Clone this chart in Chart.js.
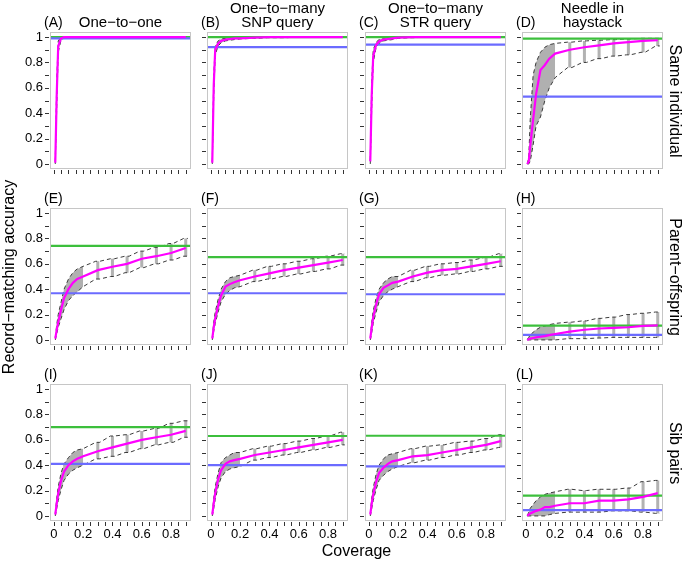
<!DOCTYPE html>
<html>
<head>
<meta charset="utf-8">
<script src="https://cdn.jsdelivr.net/npm/chart.js@4.4.0/dist/chart.umd.min.js"></script>
<style>
  body { margin: 0; background: #fff; }
  #fig { position: relative; width: 685px; height: 562px; overflow: hidden;
         font-family: "Liberation Sans", Arial, Helvetica, sans-serif; color: #000; }
  .panel { position: absolute; }
  .lab { position: absolute; white-space: nowrap; }
</style>
</head>
<body>
<div id="fig"></div>
<script>
// coverage values (x) shared by all panels
var coverage = [0.01, 0.02, 0.03, 0.05, 0.07, 0.1, 0.13, 0.16, 0.2, 0.3, 0.4, 0.5, 0.6, 0.7, 0.8, 0.9];
var bandEnd = 0.2; // dense replicates up to here, separate bars after

var panelLetters = ['A', 'B', 'C', 'D', 'E', 'F', 'G', 'H', 'I', 'J', 'K', 'L'];
var colTitles = [['One\u2212to\u2212one'], ['One\u2212to\u2212many', 'SNP query'], ['One\u2212to\u2212many', 'STR query'], ['Needle in', 'haystack']];
var rowTitles = ['Same individual', 'Parent\u2212offspring', 'Sib pairs'];

// reference lines
var greenLevel = [1.0, 1.0, 1.0, 0.987, 0.742, 0.652, 0.653, 0.112, 0.70, 0.63, 0.632, 0.16];
var blueLevel  = [0.99, 0.921, 0.94, 0.53, 0.368, 0.368, 0.36, 0.04, 0.41, 0.40, 0.39, 0.045];

// mean / lower / upper accuracy per panel
var meanA = [0.01, 0.55, 0.93, 0.99, 1, 1, 1, 1, 1, 1, 1, 1, 1, 1, 1, 1];
var loA   = [0.00, 0.45, 0.88, 0.98, 0.99, 1, 1, 1, 1, 1, 1, 1, 1, 1, 1, 1];
var hiA   = [0.02, 0.66, 0.97, 1, 1, 1, 1, 1, 1, 1, 1, 1, 1, 1, 1, 1];

var meanB = [0.01, 0.62, 0.9, 0.95, 0.97, 0.98, 0.985, 0.99, 0.99, 0.995, 1, 1, 1, 1, 1, 1];
var loB   = [0.00, 0.54, 0.86, 0.93, 0.955, 0.97, 0.975, 0.98, 0.985, 0.99, 0.995, 0.995, 1, 1, 1, 1];
var hiB   = [0.02, 0.7, 0.93, 0.97, 0.985, 0.99, 0.995, 1, 1, 1, 1, 1, 1, 1, 1, 1];

var meanC = [0.02, 0.55, 0.85, 0.94, 0.965, 0.98, 0.985, 0.99, 0.995, 1, 1, 1, 1, 1, 1, 1];
var loC   = [0.00, 0.45, 0.8, 0.92, 0.95, 0.97, 0.975, 0.98, 0.99, 0.995, 1, 1, 1, 1, 1, 1];
var hiC   = [0.03, 0.65, 0.9, 0.96, 0.98, 0.99, 1, 1, 1, 1, 1, 1, 1, 1, 1, 1];

var meanD = [0.0, 0.02, 0.14, 0.35, 0.55, 0.74, 0.78, 0.83, 0.87, 0.9, 0.92, 0.935, 0.95, 0.96, 0.97, 0.975];
var loD   = [0.0, 0.0, 0.02, 0.15, 0.3, 0.37, 0.5, 0.6, 0.68, 0.76, 0.8, 0.83, 0.85, 0.86, 0.88, 0.93];
var hiD   = [0.0, 0.05, 0.35, 0.7, 0.8, 0.88, 0.92, 0.94, 0.95, 0.96, 0.97, 0.975, 0.98, 0.985, 0.99, 0.99];

var meanE = [0.01, 0.08, 0.14, 0.24, 0.33, 0.4, 0.45, 0.48, 0.5, 0.55, 0.577, 0.6, 0.64, 0.66, 0.685, 0.725];
var loE   = [0.00, 0.05, 0.1, 0.17, 0.24, 0.31, 0.35, 0.38, 0.42, 0.48, 0.5, 0.53, 0.57, 0.6, 0.63, 0.66];
var hiE   = [0.02, 0.12, 0.2, 0.3, 0.4, 0.48, 0.53, 0.56, 0.58, 0.62, 0.64, 0.66, 0.7, 0.73, 0.76, 0.8];

var meanF = [0.01, 0.1, 0.17, 0.27, 0.35, 0.42, 0.44, 0.455, 0.47, 0.5, 0.525, 0.55, 0.57, 0.59, 0.61, 0.63];
var loF   = [0.00, 0.07, 0.13, 0.22, 0.3, 0.36, 0.39, 0.41, 0.42, 0.46, 0.48, 0.5, 0.52, 0.54, 0.56, 0.59];
var hiF   = [0.02, 0.14, 0.22, 0.32, 0.4, 0.46, 0.49, 0.5, 0.51, 0.55, 0.58, 0.6, 0.62, 0.64, 0.66, 0.68];

var meanG = [0.01, 0.1, 0.18, 0.28, 0.36, 0.41, 0.43, 0.45, 0.46, 0.5, 0.53, 0.55, 0.56, 0.58, 0.6, 0.62];
var loG   = [0.00, 0.06, 0.13, 0.22, 0.3, 0.35, 0.38, 0.4, 0.42, 0.46, 0.49, 0.51, 0.52, 0.54, 0.56, 0.58];
var hiG   = [0.02, 0.14, 0.23, 0.33, 0.4, 0.45, 0.48, 0.5, 0.5, 0.55, 0.58, 0.6, 0.61, 0.63, 0.65, 0.68];

var meanH = [0.0, 0.005, 0.01, 0.015, 0.02, 0.025, 0.03, 0.038, 0.047, 0.065, 0.08, 0.09, 0.095, 0.1, 0.11, 0.115];
var loH   = [0.0, 0.0, 0.0, 0.0, 0.0, 0.0, 0.0, 0.0, 0.0, 0.01, 0.01, 0.015, 0.02, 0.02, 0.02, 0.02];
var hiH   = [0.005, 0.02, 0.04, 0.06, 0.08, 0.1, 0.11, 0.12, 0.13, 0.14, 0.15, 0.17, 0.18, 0.2, 0.21, 0.22];

var meanI = [0.01, 0.1, 0.18, 0.28, 0.35, 0.4, 0.43, 0.45, 0.47, 0.51, 0.54, 0.57, 0.6, 0.62, 0.64, 0.67];
var loI   = [0.00, 0.06, 0.12, 0.21, 0.28, 0.33, 0.36, 0.38, 0.4, 0.45, 0.47, 0.5, 0.53, 0.56, 0.58, 0.62];
var hiI   = [0.02, 0.14, 0.23, 0.34, 0.41, 0.46, 0.5, 0.52, 0.53, 0.58, 0.63, 0.64, 0.67, 0.69, 0.73, 0.75];

var meanJ = [0.01, 0.1, 0.18, 0.29, 0.36, 0.41, 0.43, 0.44, 0.45, 0.48, 0.5, 0.52, 0.54, 0.56, 0.58, 0.6];
var loJ   = [0.00, 0.06, 0.13, 0.23, 0.3, 0.35, 0.37, 0.38, 0.39, 0.44, 0.46, 0.48, 0.5, 0.52, 0.54, 0.56];
var hiJ   = [0.02, 0.14, 0.23, 0.34, 0.42, 0.46, 0.48, 0.5, 0.5, 0.53, 0.55, 0.57, 0.59, 0.61, 0.63, 0.66];

var meanK = [0.01, 0.1, 0.17, 0.27, 0.34, 0.38, 0.41, 0.43, 0.44, 0.47, 0.48, 0.5, 0.52, 0.54, 0.56, 0.59];
var loK   = [0.00, 0.06, 0.12, 0.21, 0.28, 0.32, 0.35, 0.37, 0.39, 0.42, 0.44, 0.46, 0.48, 0.5, 0.52, 0.54];
var hiK   = [0.02, 0.14, 0.22, 0.33, 0.4, 0.45, 0.48, 0.49, 0.5, 0.53, 0.55, 0.56, 0.58, 0.59, 0.61, 0.64];

var meanL = [0.0, 0.01, 0.02, 0.03, 0.04, 0.05, 0.07, 0.07, 0.08, 0.1, 0.1, 0.12, 0.12, 0.13, 0.15, 0.18];
var loL   = [0.0, 0.0, 0.0, 0.0, 0.0, 0.0, 0.0, 0.01, 0.02, 0.03, 0.03, 0.03, 0.04, 0.04, 0.03, 0.02];
var hiL   = [0.0, 0.03, 0.06, 0.09, 0.12, 0.15, 0.17, 0.18, 0.19, 0.21, 0.2, 0.21, 0.21, 0.22, 0.27, 0.28];

// ticks
var xTicks = [0, 0.05, 0.1, 0.15, 0.2, 0.25, 0.3, 0.35, 0.4, 0.45, 0.5, 0.55, 0.6, 0.65, 0.7, 0.75, 0.8, 0.85, 0.9];
var xTickLabels = [0, 0.2, 0.4, 0.6, 0.8];
var yTicks = [0, 0.1, 0.2, 0.3, 0.4, 0.5, 0.6, 0.7, 0.8, 0.9, 1];
var yTickLabels = [0, 0.2, 0.4, 0.6, 0.8, 1];

var panels = [
  { mean: meanA, lo: loA, hi: hiA }, { mean: meanB, lo: loB, hi: hiB },
  { mean: meanC, lo: loC, hi: hiC }, { mean: meanD, lo: loD, hi: hiD },
  { mean: meanE, lo: loE, hi: hiE }, { mean: meanF, lo: loF, hi: hiF },
  { mean: meanG, lo: loG, hi: hiG }, { mean: meanH, lo: loH, hi: hiH },
  { mean: meanI, lo: loI, hi: hiI }, { mean: meanJ, lo: loJ, hi: hiJ },
  { mean: meanK, lo: loK, hi: hiK }, { mean: meanL, lo: loL, hi: hiL }
];

// layout
var colLeft = [50, 207, 365, 522];
var rowTop = [32, 208, 384];
var plotW = 141, plotH = 137;
var padL = 48, padR = 4, padT = 4, padB = 26;
var xMin = -0.026, xMax = 0.936, yMin = -0.04, yMax = 1.04;
var stub = 0.014;
var fontFam = '"Liberation Sans", Arial, Helvetica, sans-serif';

var fig = document.getElementById('fig');

// box and outside tick marks like base R
var frame = {
  id: 'frame',
  afterDraw: function(chart) {
    var ctx = chart.ctx, a = chart.chartArea;
    var xs = chart.scales.x, ys = chart.scales.y;
    ctx.save();
    ctx.strokeStyle = '#c6c6c6';
    ctx.lineWidth = 1;
    ctx.strokeRect(a.left + 0.5, a.top + 0.5, a.right - a.left - 1, a.bottom - a.top - 1);
    ctx.strokeStyle = '#333';
    ctx.beginPath();
    xs.ticks.forEach(function(t) {
      var px = Math.round(xs.getPixelForValue(t.value)) + 0.5;
      ctx.moveTo(px, a.bottom + 1);
      ctx.lineTo(px, a.bottom + 5);
    });
    ys.ticks.forEach(function(t) {
      var py = Math.round(ys.getPixelForValue(t.value)) + 0.5;
      ctx.moveTo(a.left - 1, py);
      ctx.lineTo(a.left - 5, py);
    });
    ctx.stroke();
    ctx.restore();
  }
};

function isLabel(list, v) {
  return list.some(function(l) { return Math.abs(l - v) < 1e-9; });
}

function makeChart(i) {
  var col = i % 4, row = Math.floor(i / 4);
  var p = panels[i];

  var wrap = document.createElement('div');
  wrap.className = 'panel';
  wrap.style.left = (colLeft[col] - padL) + 'px';
  wrap.style.top = (rowTop[row] - padT) + 'px';
  wrap.style.width = (padL + plotW + padR) + 'px';
  wrap.style.height = (padT + plotH + padB) + 'px';
  var cv = document.createElement('canvas');
  wrap.appendChild(cv);
  fig.appendChild(wrap);

  var bandLo = [], bandHi = [], bars = [], dashLo = [], dashHi = [], meanPts = [];
  coverage.forEach(function(x, k) {
    meanPts.push({ x: x, y: p.mean[k] });
    if (x <= bandEnd + 1e-9) {
      bandLo.push({ x: x, y: p.lo[k] });
      bandHi.push({ x: x, y: p.hi[k] });
      dashLo.push({ x: x, y: p.lo[k] });
      dashHi.push({ x: x, y: p.hi[k] });
    } else {
      bars.push({ x: x, y: p.lo[k] }, { x: x, y: p.hi[k] }, { x: x, y: null });
      dashLo.push({ x: x - stub, y: p.lo[k] }, { x: x + stub, y: p.lo[k] });
      dashHi.push({ x: x - stub, y: p.hi[k] }, { x: x + stub, y: p.hi[k] });
    }
  });

  var base = { showLine: true, pointRadius: 0, tension: 0, fill: false };
  var datasets = [
    Object.assign({}, base, { data: bandLo, borderWidth: 0, borderColor: 'rgba(0,0,0,0)', order: 6 }),
    Object.assign({}, base, { data: bandHi, borderWidth: 0, borderColor: 'rgba(0,0,0,0)',
      fill: '-1', backgroundColor: 'rgba(150,150,150,0.75)', order: 5 }),
    Object.assign({}, base, { data: bars, borderWidth: 3, borderColor: 'rgba(170,170,170,0.9)', spanGaps: false, order: 4 }),
    Object.assign({}, base, { data: dashLo, borderWidth: 1, borderColor: '#3a3a3a', borderDash: [4, 3], order: 3 }),
    Object.assign({}, base, { data: dashHi, borderWidth: 1, borderColor: '#3a3a3a', borderDash: [4, 3], order: 3 }),
    Object.assign({}, base, { data: [{ x: xMin, y: greenLevel[i] }, { x: xMax, y: greenLevel[i] }],
      borderWidth: 2.2, borderColor: '#3cbf3c', order: 2 }),
    Object.assign({}, base, { data: [{ x: xMin, y: blueLevel[i] }, { x: xMax, y: blueLevel[i] }],
      borderWidth: 2.2, borderColor: '#6b6bff', order: 1 }),
    Object.assign({}, base, { data: meanPts, borderWidth: 2.2, borderColor: '#ff00ff', order: 0 })
  ];

  new Chart(cv, {
    type: 'scatter',
    data: { datasets: datasets },
    options: {
      responsive: true,
      maintainAspectRatio: false,
      animation: false,
      events: [],
      layout: { padding: { left: 0, top: padT, right: padR, bottom: 0 } },
      plugins: { legend: { display: false }, tooltip: { enabled: false } },
      scales: {
        x: {
          type: 'linear', min: xMin, max: xMax,
          grid: { display: false, drawTicks: false }, border: { display: false },
          afterBuildTicks: function(s) { s.ticks = xTicks.map(function(v) { return { value: v }; }); },
          afterFit: function(s) { s.height = padB; s.paddingLeft = 0; s.paddingRight = 0; },
          ticks: {
            autoSkip: false, maxRotation: 0, padding: 6, color: '#000',
            font: { size: 13, family: fontFam },
            callback: function(v) { return (row === 2 && isLabel(xTickLabels, v)) ? String(v) : ''; }
          }
        },
        y: {
          type: 'linear', min: yMin, max: yMax,
          grid: { display: false, drawTicks: false }, border: { display: false },
          afterBuildTicks: function(s) { s.ticks = yTicks.map(function(v) { return { value: v }; }); },
          afterFit: function(s) { s.width = padL; s.paddingTop = 0; s.paddingBottom = 0; },
          ticks: {
            autoSkip: false, padding: 7, color: '#000',
            font: { size: 13, family: fontFam },
            callback: function(v) { return (col === 0 && isLabel(yTickLabels, v)) ? String(v) : ''; }
          }
        }
      }
    },
    plugins: [frame]
  });
}

// text helpers: place by baseline
function addText(txt, x, baseline, size, align) {
  var d = document.createElement('div');
  d.className = 'lab';
  d.textContent = txt;
  d.style.fontSize = size + 'px';
  d.style.lineHeight = Math.round(size * 1.15) + 'px';
  d.style.top = (baseline - size * 0.92) + 'px';
  if (align === 'center') {
    d.style.left = (x - 150) + 'px';
    d.style.width = '300px';
    d.style.textAlign = 'center';
  } else {
    d.style.left = x + 'px';
  }
  fig.appendChild(d);
}

function addRotated(txt, cx, cy, size, deg) {
  var d = document.createElement('div');
  d.className = 'lab';
  d.textContent = txt;
  d.style.fontSize = size + 'px';
  d.style.lineHeight = Math.round(size * 1.15) + 'px';
  d.style.left = cx + 'px';
  d.style.top = cy + 'px';
  d.style.transform = 'translate(-50%, -50%) rotate(' + deg + 'deg)';
  fig.appendChild(d);
}

for (var i = 0; i < 12; i++) {
  makeChart(i);
  var c = i % 4, r = Math.floor(i / 4);
  addText('(' + panelLetters[i] + ')', colLeft[c] - 6, rowTop[r] - 5, 14, 'left');
}

colTitles.forEach(function(lines, c) {
  var cx = colLeft[c] + plotW / 2;
  var bl = rowTop[0] - 5;
  for (var k = lines.length - 1; k >= 0; k--) {
    addText(lines[k], cx, bl, 15, 'center');
    bl -= 14;
  }
});

rowTitles.forEach(function(t, r) {
  addRotated(t, 675, rowTop[r] + plotH / 2, 16, 90);
});

addRotated('Record\u2212matching accuracy', 9, (rowTop[0] + rowTop[2] + plotH) / 2, 16, -90);
addText('Coverage', (colLeft[0] + colLeft[3] + plotW) / 2, 557, 16, 'center');
</script>
</body>
</html>
